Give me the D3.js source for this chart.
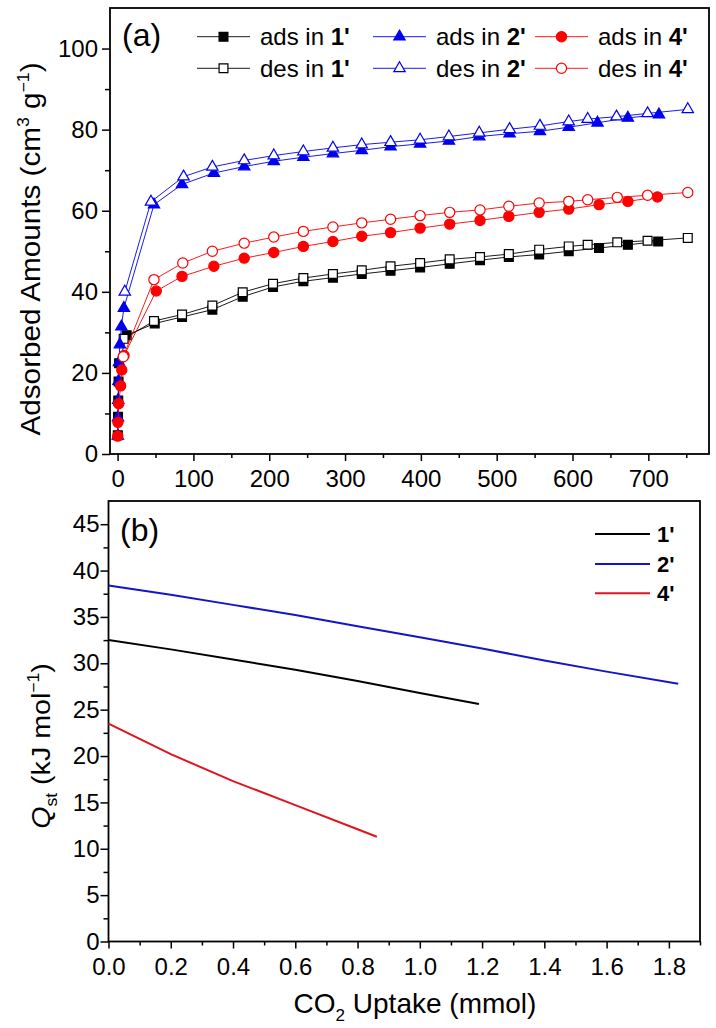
<!DOCTYPE html>
<html lang="en">
<head>
<meta charset="UTF-8">
<title>CO2 isotherms and Qst</title>
<script src="https://cdn.jsdelivr.net/npm/d3@7"></script>
<style>
  body { margin: 0; background: #fff; }
</style>
</head>
<body>
<div id="main_container"></div>
<script>

    // ---- panel (a): isotherms, pressure vs adsorbed amount ----
    var adsP1 = [0.3, 0.6, 0.9, 1.3, 2.0, 12, 49, 85, 125, 165, 205, 245, 284, 322, 360, 399, 438, 478, 516, 556, 595, 635, 673, 713];
    var adsV1 = [4.6, 9.2, 13.2, 17.9, 22.4, 29.3, 32.2, 33.8, 35.6, 38.8, 41.2, 42.6, 43.5, 44.4, 45.2, 46.0, 46.9, 47.8, 48.6, 49.2, 50.0, 50.8, 51.6, 52.4];
    var desP1 = [752, 699, 659, 620, 595, 556, 516, 478, 438, 399, 360, 322, 284, 245, 205, 165, 125, 85, 48, 8];
    var desV1 = [53.3, 52.6, 52.2, 51.6, 51.2, 50.4, 49.3, 48.6, 48.0, 47.1, 46.3, 45.3, 44.4, 43.4, 42.0, 39.9, 36.6, 34.4, 32.8, 28.4];

    var adsP2 = [0.3, 0.5, 0.8, 1.2, 1.8, 3, 5, 8.3, 48, 85, 127, 167, 206, 245, 284, 322, 360, 399, 437, 477, 517, 557, 595, 633, 673, 714];
    var adsV2 = [4.5, 9.0, 13.3, 18.0, 22.6, 27.0, 31.4, 36.0, 61.5, 66.5, 69.3, 70.9, 72.2, 73.2, 74.1, 74.9, 75.8, 76.5, 77.2, 78.3, 79.0, 79.6, 80.6, 81.7, 82.9, 83.7];
    var desP2 = [752, 699, 658, 620, 595, 557, 517, 477, 437, 399, 360, 322, 284, 245, 206, 167, 125, 87, 44, 9.5];
    var desV2 = [85.0, 84.0, 83.2, 82.6, 82.0, 80.9, 80.1, 79.2, 78.3, 77.5, 76.9, 76.3, 75.5, 74.6, 73.6, 72.4, 70.8, 68.4, 62.2, 40.0];

    var adsP4 = [0.2, 0.5, 1.5, 4, 5.5, 8.5, 51, 85, 127, 167, 206, 245, 284, 322, 360, 399, 438, 478, 516, 556, 595, 635, 673, 712];
    var adsV4 = [4.4, 7.8, 12.4, 16.8, 20.7, 24.3, 40.2, 43.8, 46.3, 48.3, 49.7, 51.2, 52.4, 53.7, 54.6, 55.7, 56.7, 57.6, 58.6, 59.6, 60.4, 61.5, 62.3, 63.4];
    var desP4 = [752, 699, 659, 620, 595, 556, 516, 478, 438, 399, 360, 322, 284, 245, 206, 167, 125, 86, 48, 7.5];
    var desV4 = [64.5, 63.8, 63.3, 62.7, 62.3, 61.9, 61.1, 60.2, 59.6, 58.8, 57.9, 57.0, 56.0, 54.9, 53.5, 52.0, 50.0, 47.1, 43.0, 24.0];

    // ---- panel (b): Qst vs uptake ----
    var qX1 = [0, 0.2, 0.4, 0.6, 0.8, 1.0, 1.19];
    var qY1 = [32.5, 31.5, 30.4, 29.3, 28.1, 26.8, 25.6];
    var qX2 = [0, 0.2, 0.4, 0.6, 0.8, 1.0, 1.2, 1.4, 1.6, 1.83];
    var qY2 = [38.4, 37.4, 36.3, 35.2, 34.0, 32.8, 31.6, 30.3, 29.1, 27.8];
    var qX4 = [0, 0.2, 0.4, 0.6, 0.8, 0.862];
    var qY4 = [23.5, 20.2, 17.3, 14.7, 12.1, 11.3];

    // ---- ticks ----
    var aXMajor = [0, 100, 200, 300, 400, 500, 600, 700];
    var aXMinor = [50, 150, 250, 350, 450, 550, 650, 750];
    var aYMajor = [0, 20, 40, 60, 80, 100];
    var aYMinor = [10, 30, 50, 70, 90];
    var bXMajor = [0, 0.2, 0.4, 0.6, 0.8, 1.0, 1.2, 1.4, 1.6, 1.8];
    var bXMinor = [0.1, 0.3, 0.5, 0.7, 0.9, 1.1, 1.3, 1.5, 1.7, 1.9];
    var bYMajor = [0, 5, 10, 15, 20, 25, 30, 35, 40, 45];
    var bYMinor = [2.5, 7.5, 12.5, 17.5, 22.5, 27.5, 32.5, 37.5, 42.5];

    var fontFam = "'Liberation Sans', Arial, sans-serif";
    var cBlack = "#000000", cBlue = "#0000f0", cRed = "#ff0000";

    var svg = d3.select("#main_container").append("svg")
            .attr("width", 716)
            .attr("height", 1028);
    svg.append("rect").attr("width", 716).attr("height", 1028).attr("fill", "#fff");

    var xa = d3.scaleLinear().domain([-10, 780]).range([110, 709]);
    var ya = d3.scaleLinear().domain([0, 110]).range([454, 8]);
    var xb = d3.scaleLinear().domain([0, 1.9]).range([108.5, 700]);
    var yb = d3.scaleLinear().domain([0, 47.5]).range([941.5, 501]);

    function drawAxes(x, y, xMaj, xMin, yMaj, yMin, xFmt, yPad) {
        var g = svg.append("g");
        var y0 = y.range()[0], x0 = x.range()[0];
        g.append("g").attr("transform", "translate(0," + y0 + ")")
            .call(d3.axisBottom(x).tickValues(xMin).tickSize(4).tickSizeOuter(0).tickFormat(""));
        g.append("g").attr("transform", "translate(0," + y0 + ")")
            .call(d3.axisBottom(x).tickValues(xMaj).tickSize(7).tickSizeOuter(0).tickPadding(9).tickFormat(xFmt));
        g.append("g").attr("transform", "translate(" + x0 + ",0)")
            .call(d3.axisLeft(y).tickValues(yMin).tickSize(5).tickSizeOuter(0).tickFormat(""));
        g.append("g").attr("transform", "translate(" + x0 + ",0)")
            .call(d3.axisLeft(y).tickValues(yMaj).tickSize(8).tickSizeOuter(0).tickPadding(yPad).tickFormat(d3.format("d")));
        g.selectAll(".domain").remove();
        g.selectAll(".tick line").attr("stroke", "#000").attr("stroke-width", 1.5);
        g.selectAll(".tick text")
            .attr("font-size", 24)
            .attr("font-family", fontFam)
            .attr("fill", "#000");
        g.append("rect")
            .attr("x", x0).attr("y", y.range()[1])
            .attr("width", x.range()[1] - x0)
            .attr("height", y0 - y.range()[1])
            .attr("fill", "none")
            .attr("stroke", "#000")
            .attr("stroke-width", 1.8);
    }

    drawAxes(xa, ya, aXMajor, aXMinor, aYMajor, aYMinor, d3.format("d"), 4);
    drawAxes(xb, yb, bXMajor, bXMinor, bYMajor, bYMinor, d3.format(".1f"), 1);

    // ---- isotherm series ----
    var symSquare = d3.symbol().type(d3.symbolSquare).size(78);
    var symTri = d3.symbol().type(d3.symbolTriangle).size(56);
    var symCirc = d3.symbol().type(d3.symbolCircle).size(82);

    var isoSeries = [
        { p: adsP1, v: adsV1, color: cBlack, sym: symSquare, filled: true },
        { p: desP1, v: desV1, color: cBlack, sym: symSquare, filled: false },
        { p: adsP2, v: adsV2, color: cBlue, sym: symTri, filled: true },
        { p: desP2, v: desV2, color: cBlue, sym: symTri, filled: false },
        { p: adsP4, v: adsV4, color: cRed, sym: symCirc, filled: true },
        { p: desP4, v: desV4, color: cRed, sym: symCirc, filled: false }
    ];

    var lineA = d3.line().x(function(d){ return xa(d[0]); }).y(function(d){ return ya(d[1]); });

    isoSeries.forEach(function(s) {
        var pts = s.p.map(function(p, i){ return [p, s.v[i]]; });
        var g = svg.append("g");
        g.append("path")
            .attr("d", lineA(pts))
            .attr("fill", "none")
            .attr("stroke", s.color)
            .attr("stroke-width", 0.9);
        g.selectAll("path.mk").data(pts).enter().append("path")
            .attr("class", "mk")
            .attr("d", s.sym)
            .attr("transform", function(d){ return "translate(" + xa(d[0]) + "," + ya(d[1]) + ")"; })
            .attr("fill", s.filled ? s.color : "#fff")
            .attr("stroke", s.color)
            .attr("stroke-width", 1.2);
    });

    // ---- Qst lines ----
    var qSeries = [
        { x: qX1, y: qY1, color: "#000000", name: "1'" },
        { x: qX2, y: qY2, color: "#1414c8", name: "2'" },
        { x: qX4, y: qY4, color: "#e0141e", name: "4'" }
    ];
    var lineB = d3.line().x(function(d){ return xb(d[0]); }).y(function(d){ return yb(d[1]); });
    qSeries.forEach(function(s) {
        var pts = s.x.map(function(v, i){ return [v, s.y[i]]; });
        svg.append("path")
            .attr("d", lineB(pts))
            .attr("fill", "none")
            .attr("stroke", s.color)
            .attr("stroke-width", 2);
    });

    // ---- legend (a) ----
    var legA = [
        { col: 0, row: 0, s: isoSeries[0], label: "ads in ", num: "1'" },
        { col: 0, row: 1, s: isoSeries[1], label: "des in ", num: "1'" },
        { col: 1, row: 0, s: isoSeries[2], label: "ads in ", num: "2'" },
        { col: 1, row: 1, s: isoSeries[3], label: "des in ", num: "2'" },
        { col: 2, row: 0, s: isoSeries[4], label: "ads in ", num: "4'" },
        { col: 2, row: 1, s: isoSeries[5], label: "des in ", num: "4'" }
    ];
    var legColX = [197, 373, 535];
    var legRowY = [36.7, 68.3];
    legA.forEach(function(d) {
        var lx = legColX[d.col], ly = legRowY[d.row];
        var g = svg.append("g");
        g.append("line").attr("x1", lx).attr("x2", lx + 53).attr("y1", ly).attr("y2", ly)
            .attr("stroke", d.s.color).attr("stroke-width", 0.9);
        g.append("path").attr("d", d.s.sym)
            .attr("transform", "translate(" + (lx + 26.5) + "," + ly + ")")
            .attr("fill", d.s.filled ? d.s.color : "#fff")
            .attr("stroke", d.s.color).attr("stroke-width", 1.2);
        var t = g.append("text").attr("x", lx + 63).attr("y", ly + 8.5)
            .attr("font-family", fontFam).attr("font-size", 24).attr("fill", "#000");
        t.append("tspan").text(d.label);
        t.append("tspan").attr("font-weight", "bold").text(d.num);
    });

    // ---- legend (b) ----
    var legBY = [534, 564, 593.3];
    qSeries.forEach(function(s, i) {
        svg.append("line").attr("x1", 595).attr("x2", 650).attr("y1", legBY[i]).attr("y2", legBY[i])
            .attr("stroke", s.color).attr("stroke-width", 2);
        svg.append("text").attr("x", 657).attr("y", legBY[i] + 8)
            .attr("font-family", fontFam).attr("font-size", 22).attr("font-weight", "bold")
            .attr("fill", "#000").text(s.name);
    });

    // ---- panel labels ----
    svg.append("text").attr("x", 122).attr("y", 46).attr("font-family", fontFam)
        .attr("font-size", 32).text("(a)");
    svg.append("text").attr("x", 120).attr("y", 541).attr("font-family", fontFam)
        .attr("font-size", 32).text("(b)");

    // ---- axis titles ----
    var tA = svg.append("text")
        .attr("transform", "translate(40,249) rotate(-90) scale(1.1,1)")
        .attr("text-anchor", "middle")
        .attr("font-family", fontFam).attr("font-size", 27).attr("fill", "#000");
    tA.append("tspan").text("Adsorbed Amounts (cm");
    tA.append("tspan").attr("font-size", 16).attr("dy", -11).text("3");
    tA.append("tspan").attr("dy", 11).text(" g");
    tA.append("tspan").attr("font-size", 16).attr("dy", -11).text("\u22121");
    tA.append("tspan").attr("dy", 11).text(")");

    var tB = svg.append("text")
        .attr("transform", "translate(50,746) rotate(-90) scale(1.1,1)")
        .attr("text-anchor", "middle")
        .attr("font-family", fontFam).attr("font-size", 26).attr("fill", "#000");
    tB.append("tspan").attr("font-style", "italic").text("Q");
    tB.append("tspan").attr("font-size", 16).attr("dy", 7).text("st");
    tB.append("tspan").attr("dy", -7).text(" (kJ mol");
    tB.append("tspan").attr("font-size", 16).attr("dy", -11).text("\u22121");
    tB.append("tspan").attr("dy", 11).text(")");

    var tX = svg.append("text")
        .attr("transform", "translate(415,1013)")
        .attr("text-anchor", "middle")
        .attr("font-family", fontFam).attr("font-size", 28).attr("fill", "#000");
    tX.append("tspan").text("CO");
    tX.append("tspan").attr("font-size", 17).attr("dy", 8).text("2");
    tX.append("tspan").attr("dy", -8).text(" Uptake (mmol)");

</script>
</body>
</html>
